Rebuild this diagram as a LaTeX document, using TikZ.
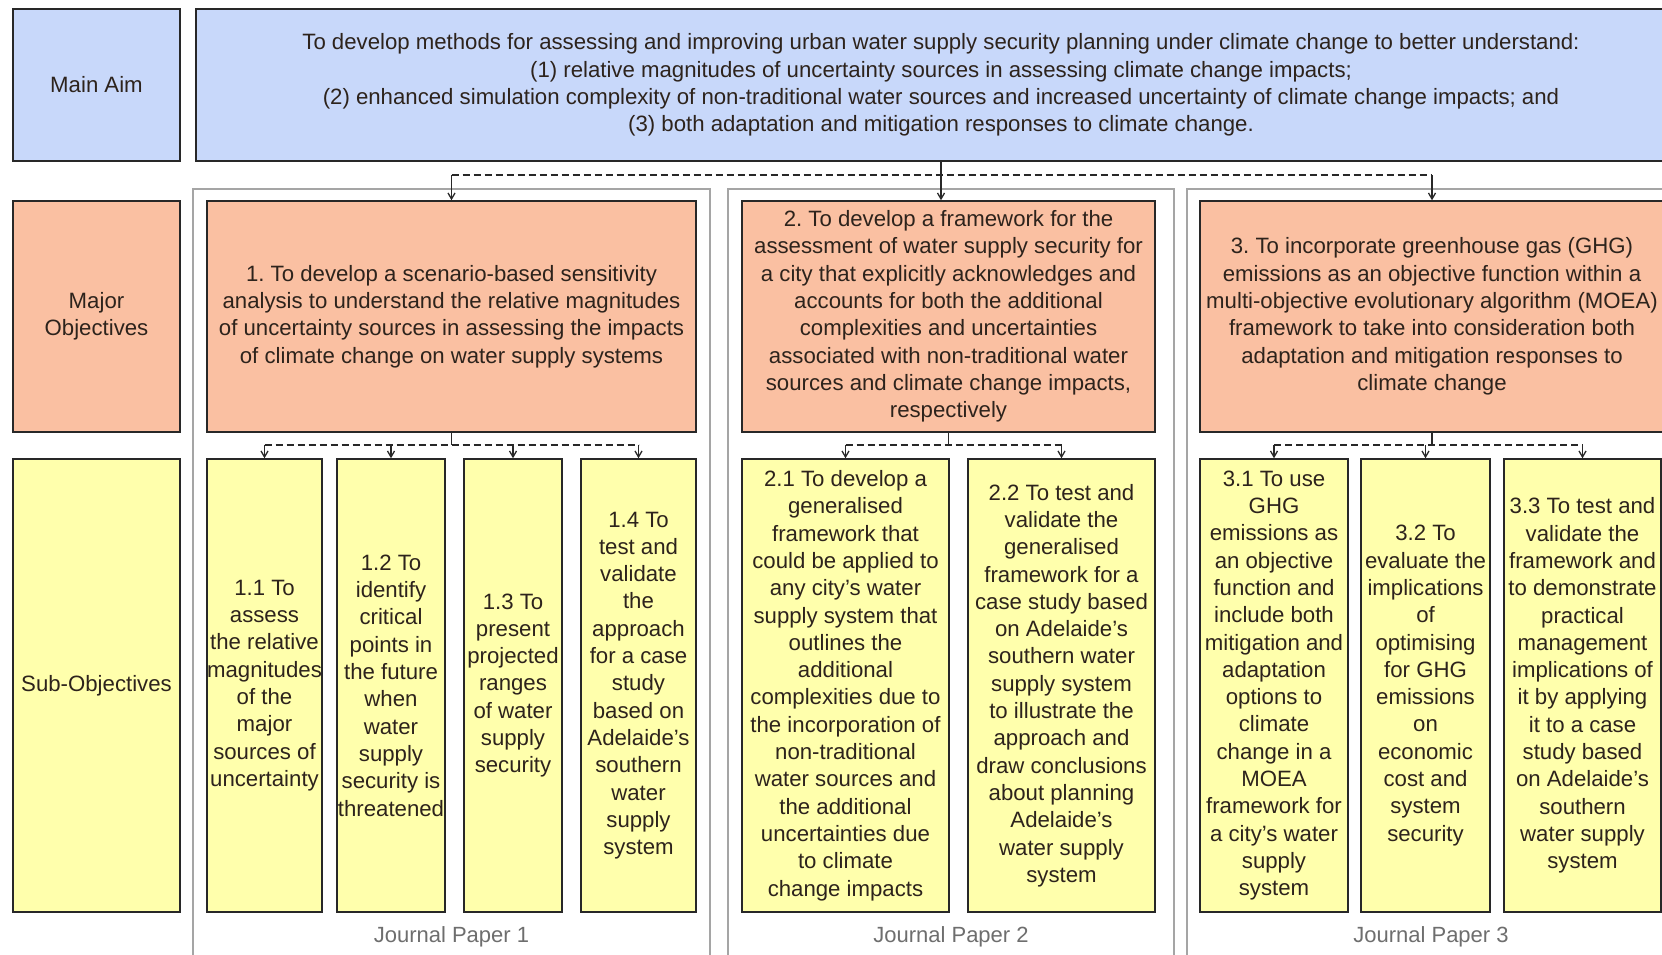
\documentclass[tikz,border=0pt]{standalone}
\usepackage{fontspec}
\setmainfont{Liberation Sans}
\usetikzlibrary{arrows.meta}
\definecolor{aimblue}{RGB}{200,216,250}
\definecolor{objorange}{RGB}{250,192,162}
\definecolor{subyellow}{RGB}{255,255,172}
\definecolor{bordc}{RGB}{40,40,40}
\definecolor{grpc}{RGB}{165,165,165}
\definecolor{txtc}{RGB}{45,35,28}
\definecolor{jptxt}{RGB}{110,110,110}
\begin{document}
\frenchspacing
\begin{tikzpicture}[x=1pt,y=-1pt,
  box/.style={draw=bordc, line width=1.5pt, inner sep=0pt, align=center,
    font=\fontsize{22.2}{27.3}\selectfont, text=txtc},
  aim/.style={box, fill=aimblue},
  obj/.style={box, fill=objorange},
  sub/.style={box, fill=subyellow},
  grp/.style={draw=grpc, line width=1.4pt, fill=white, inner sep=0pt},
  jplbl/.style={font=\fontsize{22}{26}\selectfont, text=jptxt, inner sep=0pt},
  dl/.style={draw=bordc, line width=1.3pt, dash pattern=on 7pt off 4pt},
  vl/.style={draw=bordc, line width=1.3pt},
  dla/.style={vl, -{Straight Barb[length=6pt,width=7pt]}}
]
\clip (0,0) rectangle (1662,954);
\fill[white] (0,0) rectangle (1662,954);

% journal paper groups
\node[grp, minimum width=517pt, minimum height=791pt] (jp1) at (451.5,584.5) {};
\node[grp, minimum width=446pt, minimum height=791pt] (jp2) at (951,584.5) {};
\node[grp, minimum width=488pt, minimum height=791pt] (jp3) at (1431,584.5) {};
\node[jplbl] (jp1l) at (451.5,937) {Journal Paper 1};
\node[jplbl] (jp2l) at (951,937) {Journal Paper 2};
\node[jplbl] (jp3l) at (1431,937) {Journal Paper 3};

% row labels
\node[aim, minimum width=167pt, minimum height=152pt] (lmain) at (96.5,85) {Main Aim};
\node[obj, minimum width=167pt, minimum height=231pt] (lmaj) at (96.5,316.5) {Major\\Objectives};
\node[sub, minimum width=167pt, minimum height=453pt] (lsub) at (96.5,685.5) {Sub-Objectives};

% main aim
\node[aim, minimum width=1490pt, minimum height=152pt] (main) at (941,85) {To develop methods for assessing and improving urban water supply security planning under climate change to better understand:\\
(1) relative magnitudes of uncertainty sources in assessing climate change impacts;\\
(2) enhanced simulation complexity of non-traditional water sources and increased uncertainty of climate change impacts; and\\
(3) both adaptation and mitigation responses to climate change.};

% major objectives
\node[obj, minimum width=489pt, minimum height=231pt] (o1) at (451.5,316.5) {1. To develop a scenario-based sensitivity\\ analysis to understand the relative magnitudes\\ of uncertainty sources in assessing the impacts\\ of climate change on water supply systems};
\node[obj, minimum width=413pt, minimum height=231pt] (o2) at (948.5,316.5) {2. To develop a framework for the\\ assessment of water supply security for\\ a city that explicitly acknowledges and\\ accounts for both the additional\\ complexities and uncertainties\\ associated with non-traditional water\\ sources and climate change impacts,\\ respectively};
\node[obj, minimum width=464pt, minimum height=231pt] (o3) at (1432,316.5) {3. To incorporate greenhouse gas (GHG)\\ emissions as an objective function within a\\ multi-objective evolutionary algorithm (MOEA)\\ framework to take into consideration both\\ adaptation and mitigation responses to\\ climate change};

% sub-objectives
\node[sub, minimum width=115pt, minimum height=453pt] (s11) at (264.5,685.5) {1.1 To\\ assess\\ the relative\\ magnitudes\\ of the\\ major\\ sources of\\ uncertainty};
\node[sub, minimum width=108pt, minimum height=453pt] (s12) at (391,685.5) {1.2 To\\ identify\\ critical\\ points in\\ the future\\ when\\ water\\ supply\\ security is\\ threatened};
\node[sub, minimum width=98pt, minimum height=453pt] (s13) at (513,685.5) {1.3 To\\ present\\ projected\\ ranges\\ of water\\ supply\\ security};
\node[sub, minimum width=115pt, minimum height=453pt] (s14) at (638.5,685.5) {1.4 To\\ test and\\ validate\\ the\\ approach\\ for a case\\ study\\ based on\\ Adelaide's\\ southern\\ water\\ supply\\ system};
\node[sub, minimum width=207pt, minimum height=453pt] (s21) at (845.5,685.5) {2.1 To develop a\\ generalised\\ framework that\\ could be applied to\\ any city's water\\ supply system that\\ outlines the\\ additional\\ complexities due to\\ the incorporation of\\ non-traditional\\ water sources and\\ the additional\\ uncertainties due\\ to climate\\ change impacts};
\node[sub, minimum width=187pt, minimum height=453pt] (s22) at (1061.5,685.5) {2.2 To test and\\ validate the\\ generalised\\ framework for a\\ case study based\\ on Adelaide's\\ southern water\\ supply system\\ to illustrate the\\ approach and\\ draw conclusions\\ about planning\\ Adelaide's\\ water supply\\ system};
\node[sub, minimum width=148pt, minimum height=453pt] (s31) at (1274,685.5) {3.1 To use\\ GHG\\ emissions as\\ an objective\\ function and\\ include both\\ mitigation and\\ adaptation\\ options to\\ climate\\ change in a\\ MOEA\\ framework for\\ a city's water\\ supply\\ system};
\node[sub, minimum width=129pt, minimum height=453pt] (s32) at (1425.5,685.5) {3.2 To\\ evaluate the\\ implications\\ of\\ optimising\\ for GHG\\ emissions\\ on\\ economic\\ cost and\\ system\\ security};
\node[sub, minimum width=157pt, minimum height=453pt] (s33) at (1582.5,685.5) {3.3 To test and\\ validate the\\ framework and\\ to demonstrate\\ practical\\ management\\ implications of\\ it by applying\\ it to a case\\ study based\\ on Adelaide's\\ southern\\ water supply\\ system};

% connectors: main aim -> objectives
\coordinate (b0) at (0,175);
\draw[vl] (main.south) -- (main.south |- b0);
\draw[dl] (o1.north |- b0) -- (o3.north |- b0);
\draw[dla] (o1.north |- b0) -- (o1.north);
\draw[dla] (main.south |- b0) -- (main.south |- o2.north);
\draw[dla] (o3.north |- b0) -- (o3.north);

% connectors: objectives -> sub-objectives
\coordinate (b1) at (0,445);
\draw[vl] (o1.south) -- (o1.south |- b1);
\draw[dl] (s11.north |- b1) -- (s14.north |- b1);
\foreach \s in {s11,s12,s13,s14} \draw[dla] (\s.north |- b1) -- (\s.north);
\draw[vl] (o2.south) -- (o2.south |- b1);
\draw[dl] (s21.north |- b1) -- (s22.north |- b1);
\foreach \s in {s21,s22} \draw[dla] (\s.north |- b1) -- (\s.north);
\draw[vl] (o3.south) -- (o3.south |- b1);
\draw[dl] (s31.north |- b1) -- (s33.north |- b1);
\foreach \s in {s31,s32,s33} \draw[dla] (\s.north |- b1) -- (\s.north);
\end{tikzpicture}
\end{document}
